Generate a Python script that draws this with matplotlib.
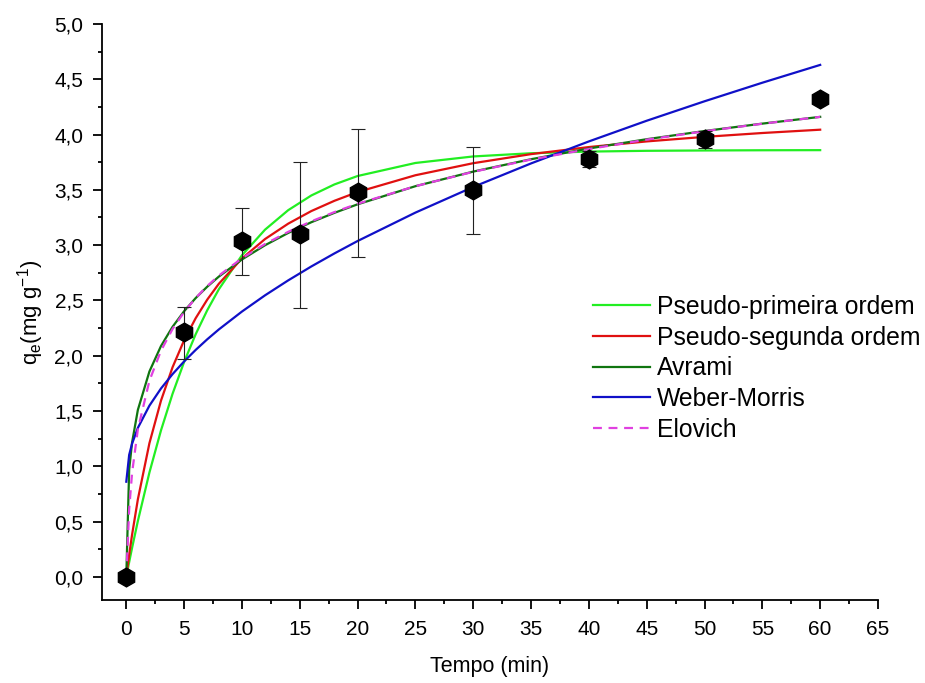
import matplotlib
matplotlib.use("Agg")
import matplotlib.pyplot as plt
from matplotlib.ticker import MultipleLocator

plt.rcParams['font.family'] = ['Liberation Sans', 'DejaVu Sans']
plt.rcParams['mathtext.fontset'] = 'custom'
plt.rcParams['mathtext.rm'] = 'Liberation Sans'
plt.rcParams['mathtext.it'] = 'Liberation Sans'

# experimental points
t_exp = [0, 5, 10, 15, 20, 30, 40, 50, 60]
q_exp = [0.00, 2.21, 3.04, 3.10, 3.48, 3.50, 3.78, 3.96, 4.32]
q_low = [0.00, 1.97, 2.73, 2.43, 2.89, 3.10, 3.71, 3.88, 4.32]
q_high = [0.00, 2.44, 3.34, 3.75, 4.05, 3.89, 3.85, 4.03, 4.32]

# fitted curves
t_fit = [0, 0.25, 0.5, 1, 2, 3, 4, 5, 6, 7, 8, 10, 12, 14, 16, 18, 20,
         25, 30, 35, 40, 45, 50, 55, 60]
pfo = [0.000, 0.133, 0.261, 0.504, 0.943, 1.324, 1.655, 1.943, 2.194, 2.411,
       2.600, 2.908, 3.140, 3.316, 3.449, 3.549, 3.625, 3.743, 3.802, 3.831,
       3.846, 3.853, 3.856, 3.858, 3.859]
pso = [0.000, 0.199, 0.380, 0.700, 1.208, 1.593, 1.895, 2.139, 2.339, 2.507,
       2.650, 2.879, 3.055, 3.194, 3.308, 3.401, 3.480, 3.632, 3.741, 3.823,
       3.887, 3.938, 3.979, 4.014, 4.044]
avrami = [0.000, 0.970, 1.214, 1.509, 1.857, 2.087, 2.261, 2.402, 2.521, 2.624,
          2.715, 2.870, 2.999, 3.110, 3.207, 3.292, 3.369, 3.533, 3.665, 3.777,
          3.874, 3.958, 4.032, 4.099, 4.160]
weber = [0.860, 1.103, 1.204, 1.347, 1.548, 1.703, 1.833, 1.948, 2.052, 2.148,
         2.237, 2.399, 2.546, 2.681, 2.807, 2.925, 3.037, 3.294, 3.526, 3.739,
         3.938, 4.125, 4.301, 4.469, 4.630]
elovich = [0.000, 0.613, 0.939, 1.333, 1.773, 2.045, 2.241, 2.395, 2.522, 2.630,
           2.724, 2.881, 3.010, 3.120, 3.215, 3.299, 3.374, 3.533, 3.663, 3.774,
           3.869, 3.954, 4.030, 4.098, 4.160]

x_ticks = list(range(0, 70, 5))
y_ticks = [0.0, 0.5, 1.0, 1.5, 2.0, 2.5, 3.0, 3.5, 4.0, 4.5, 5.0]
y_labels = ['0,0', '0,5', '1,0', '1,5', '2,0', '2,5', '3,0', '3,5', '4,0', '4,5', '5,0']

fig = plt.figure(figsize=(9.25, 6.83), dpi=100)
ax = fig.add_axes([102 / 925, 1 - 600 / 683, (878 - 102) / 925, (600 - 24) / 683])

lw = 1.6
ax.plot(t_fit, pfo, color='#22ee22', lw=lw, label='Pseudo-primeira ordem', zorder=3)
ax.plot(t_fit, pso, color='#e01010', lw=lw, label='Pseudo-segunda ordem', zorder=3)
ax.plot(t_fit, avrami, color='#107510', lw=lw, label='Avrami', zorder=3)
ax.plot(t_fit, weber, color='#1010c8', lw=lw, label='Weber-Morris', zorder=3)
ax.plot(t_fit, elovich, color='#e040e0', lw=lw, ls=(0, (4, 3)), label='Elovich', zorder=4)

err_low = [q - lo for q, lo in zip(q_exp, q_low)]
err_high = [hi - q for q, hi in zip(q_exp, q_high)]
ax.errorbar(t_exp, q_exp, yerr=[err_low, err_high], fmt='none', ecolor='#222222',
            elinewidth=0.8, capsize=5, capthick=0.8, zorder=5)
ax.plot(t_exp, q_exp, ls='none', marker='h', ms=13.5, color='black', zorder=6)

ax.set_xlim(-2.1, 65)
ax.set_ylim(-0.21, 5.0)
ax.set_xticks(x_ticks)
ax.xaxis.set_minor_locator(MultipleLocator(2.5))
ax.set_yticks(y_ticks)
ax.set_yticklabels(y_labels)
ax.yaxis.set_minor_locator(MultipleLocator(0.25))

for side in ['top', 'right']:
    ax.spines[side].set_visible(False)
for side in ['left', 'bottom']:
    ax.spines[side].set_linewidth(1.3)

ax.tick_params(which='major', direction='out', length=6.5, width=1.3, labelsize=15)
ax.tick_params(axis='x', which='major', pad=8)
ax.tick_params(axis='y', which='major', pad=7)
ax.tick_params(which='minor', direction='out', length=3, width=1.3)

ax.set_xlabel('Tempo (min)', fontsize=15.5)
ax.set_ylabel(r'q$_\mathrm{e}$(mg g$^{-1}$)', fontsize=16)
ax.xaxis.set_label_coords(0.5, -0.097)
ax.yaxis.set_label_coords(-0.072, 0.5)

ax.legend(loc='upper left', bbox_to_anchor=(593 / 925, 1 - 295 / 683),
          bbox_transform=fig.transFigure, frameon=False, fontsize=17.8,
          borderpad=0, borderaxespad=0, handlelength=2.3, handletextpad=0.28,
          labelspacing=0.27)

fig.savefig('out.png', dpi=100)
